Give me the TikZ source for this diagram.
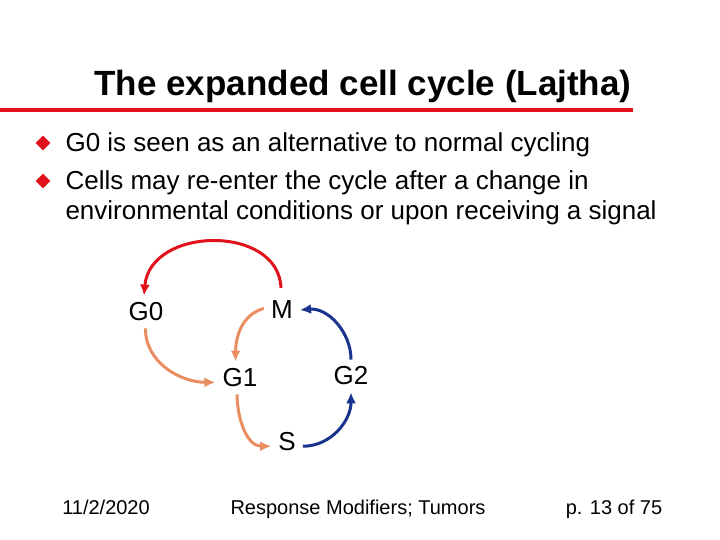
\documentclass[tikz,border=0pt]{standalone}
\usepackage{fontspec}
\setmainfont{Liberation Sans}
\usetikzlibrary{arrows.meta,shapes.geometric}
\definecolor{slidered}{RGB}{226,18,28}
\definecolor{cycorange}{RGB}{234,142,98}
\definecolor{cycblue}{RGB}{24,52,140}
\tikzset{
  phase/.style    = {inner sep=7pt, font=\fontsize{26}{30}\selectfont},
  bullettext/.style = {anchor=base west, align=left,
                       font=\fontsize{26}{30}\selectfont},
  bulletmark/.style = {diamond, fill=slidered, inner sep=0pt, minimum size=15pt},
  footer/.style   = {anchor=base, font=\fontsize{20}{24}\selectfont},
  flow/.style     = {-{Latex[length=11pt, width=10pt]}, line width=3pt, draw=#1},
}
\begin{document}
\begin{tikzpicture}[x=1pt, y=1pt]
  \useasboundingbox[fill=white] (0,0) rectangle (720,540);

  % title and rule
  \node[anchor=base, font=\fontsize{35}{40}\selectfont\bfseries] (title) at (363,444)
       {The expanded cell cycle (Lajtha)};
  \draw[slidered, line width=4.5pt] (0,430) -- (633,430);

  % bullets
  \node[bulletmark] (markA) at (43,397) {};
  \node[bullettext] (bulA) at (62,388) {G0 is seen as an alternative to normal cycling};
  \node[bulletmark] (markB) at (43,359) {};
  \node[bullettext] (bulB) at (62,320)
       {Cells may re-enter the cycle after a change in\\
        environmental conditions or upon receiving a signal};

  % cycle phases
  \node[phase] (G0) at (146,228) {G0};
  \node[phase] (M)  at (282,230) {M};
  \node[phase] (G1) at (240,162) {G1};
  \node[phase] (G2) at (351,164) {G2};
  \node[phase] (S)  at (287,98)  {S};

  \draw[flow=slidered, shorten <=6pt] (M.93) to[out=92, in=85, looseness=1.3] (G0.97);
  \draw[flow=cycorange] (G0.-92) to[out=-90, in=180] (G1.-170);
  \draw[flow=cycorange] (M.175) to[out=195, in=90] (G1.105);
  \draw[flow=cycorange] (G1.-100) to[out=-90, in=180] (S.-165);
  \draw[flow=cycblue] (S.-15) to[out=0, in=-90] (G2.south);
  \draw[flow=cycblue] (G2.north) to[out=90, in=5] (M.east);

  % footer
  \node[footer] (date) at (106,25) {11/2/2020};
  \node[footer] (course) at (358,25) {Response Modifiers; Tumors};
  \node[footer] (page) at (614,25) {p. 13 of 75};
\end{tikzpicture}
\end{document}
